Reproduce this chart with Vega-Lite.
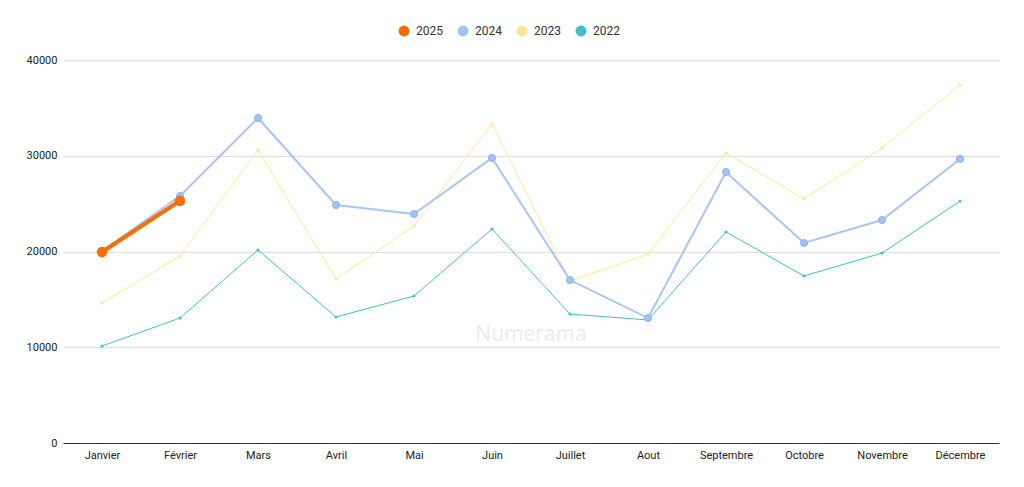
{
  "$schema": "https://vega.github.io/schema/vega-lite/v6.json",
  "width": 936,
  "height": 383,
  "autosize": {"type": "none"},
  "padding": {"left": 63, "top": 60, "right": 25, "bottom": 44},
  "background": "white",
  "data": {
    "values": [
      {"mois": "Janvier", "annee": "2022", "valeur": 10130},
      {"mois": "Février", "annee": "2022", "valeur": 13050},
      {"mois": "Mars", "annee": "2022", "valeur": 20160},
      {"mois": "Avril", "annee": "2022", "valeur": 13160},
      {"mois": "Mai", "annee": "2022", "valeur": 15350},
      {"mois": "Juin", "annee": "2022", "valeur": 22350},
      {"mois": "Juillet", "annee": "2022", "valeur": 13470},
      {"mois": "Aout", "annee": "2022", "valeur": 12850},
      {"mois": "Septembre", "annee": "2022", "valeur": 22040},
      {"mois": "Octobre", "annee": "2022", "valeur": 17440},
      {"mois": "Novembre", "annee": "2022", "valeur": 19840},
      {"mois": "Décembre", "annee": "2022", "valeur": 25270},
      {"mois": "Janvier", "annee": "2023", "valeur": 14620},
      {"mois": "Février", "annee": "2023", "valeur": 19530},
      {"mois": "Mars", "annee": "2023", "valeur": 30600},
      {"mois": "Avril", "annee": "2023", "valeur": 17130},
      {"mois": "Mai", "annee": "2023", "valeur": 22660},
      {"mois": "Juin", "annee": "2023", "valeur": 33320},
      {"mois": "Juillet", "annee": "2023", "valeur": 16920},
      {"mois": "Aout", "annee": "2023", "valeur": 19740},
      {"mois": "Septembre", "annee": "2023", "valeur": 30290},
      {"mois": "Octobre", "annee": "2023", "valeur": 25480},
      {"mois": "Novembre", "annee": "2023", "valeur": 30810},
      {"mois": "Décembre", "annee": "2023", "valeur": 37390},
      {"mois": "Janvier", "annee": "2024", "valeur": 20050},
      {"mois": "Février", "annee": "2024", "valeur": 25800},
      {"mois": "Mars", "annee": "2024", "valeur": 33940},
      {"mois": "Avril", "annee": "2024", "valeur": 24860},
      {"mois": "Mai", "annee": "2024", "valeur": 23920},
      {"mois": "Juin", "annee": "2024", "valeur": 29770},
      {"mois": "Juillet", "annee": "2024", "valeur": 17020},
      {"mois": "Aout", "annee": "2024", "valeur": 13050},
      {"mois": "Septembre", "annee": "2024", "valeur": 28300},
      {"mois": "Octobre", "annee": "2024", "valeur": 20890},
      {"mois": "Novembre", "annee": "2024", "valeur": 23290},
      {"mois": "Décembre", "annee": "2024", "valeur": 29660},
      {"mois": "Janvier", "annee": "2025", "valeur": 19950},
      {"mois": "Février", "annee": "2025", "valeur": 25300}
    ]
  },
  "encoding": {
    "x": {
      "field": "mois",
      "type": "nominal",
      "sort": null,
      "scale": {"type": "point", "padding": 0.5},
      "axis": {
        "title": null,
        "labelAngle": 0,
        "labelFont": "Roboto",
        "labelFontSize": 11,
        "labelColor": "#222222",
        "labelPadding": 6,
        "ticks": false,
        "domainColor": "#333333",
        "grid": false
      }
    },
    "y": {
      "field": "valeur",
      "type": "quantitative",
      "scale": {"domain": [0, 40000], "nice": false},
      "axis": {
        "title": null,
        "values": [0, 10000, 20000, 30000, 40000],
        "format": "d",
        "labelFont": "Roboto",
        "labelFontSize": 11,
        "labelColor": "#222222",
        "labelPadding": 6,
        "ticks": false,
        "domain": false,
        "gridColor": "#dddddd"
      }
    },
    "color": {
      "field": "annee",
      "type": "nominal",
      "scale": {
        "domain": ["2025", "2024", "2023", "2022"],
        "range": ["#ff6d01", "#a4c2f4", "#ffe599", "#46bdc6"]
      },
      "legend": {
        "title": null,
        "orient": "none",
        "direction": "horizontal",
        "legendX": 335,
        "legendY": -35,
        "symbolType": "circle",
        "symbolSize": 120,
        "symbolOpacity": 1,
        "symbolStrokeWidth": 0,
        "labelFont": "Roboto",
        "labelFontSize": 12,
        "labelColor": "#333333",
        "labelOffset": 6,
        "columnPadding": 14
      }
    }
  },
  "layer": [
    {
      "transform": [{"filter": "datum.annee === '2022' || datum.annee === '2023'"}],
      "mark": {"type": "line", "strokeWidth": 1}
    },
    {
      "transform": [{"filter": "datum.annee === '2022' || datum.annee === '2023'"}],
      "mark": {"type": "point", "filled": true, "opacity": 1, "size": 10}
    },
    {
      "transform": [{"filter": "datum.annee === '2024'"}],
      "mark": {"type": "line", "strokeWidth": 2, "opacity": 0.95}
    },
    {
      "transform": [{"filter": "datum.annee === '2024'"}],
      "mark": {"type": "point", "filled": true, "opacity": 1, "size": 50, "stroke": "#8fb0ec", "strokeWidth": 1}
    },
    {
      "transform": [{"filter": "datum.annee === '2025'"}],
      "mark": {"type": "line", "strokeWidth": 4}
    },
    {
      "transform": [{"filter": "datum.annee === '2025'"}],
      "mark": {"type": "point", "filled": true, "opacity": 1, "size": 110}
    },
    {
      "data": {"values": [{"mois": "Juin", "valeur": 11300, "texte": "Numerama"}]},
      "mark": {"type": "text", "dx": 39, "font": "Open Sans", "fontSize": 21},
      "encoding": {
        "x": {"field": "mois", "type": "nominal"},
        "y": {"field": "valeur", "type": "quantitative"},
        "text": {"field": "texte"},
        "color": {"value": "#ececec"}
      }
    }
  ],
  "config": {
    "view": {"stroke": null}
  }
}
